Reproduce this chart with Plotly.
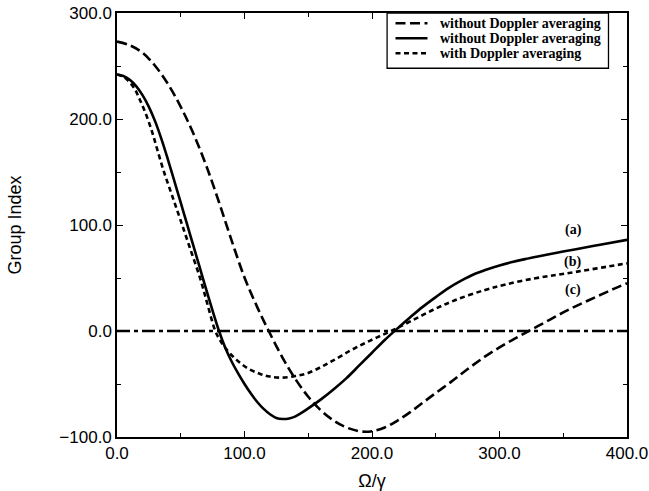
import plotly.graph_objects as go

# Curve (c): long dashes, "without Doppler averaging"
x_long = [0, 10, 20, 30, 40, 50, 60, 70, 80, 90, 100, 110, 119, 130, 140, 150, 160, 170, 180, 190, 195, 200, 210, 220, 230, 240, 250, 262, 270, 280, 290, 300, 310, 320, 330, 340, 350, 360, 370, 380, 390, 400]
y_long = [273, 269.5, 262.5, 250, 233, 211.5, 186, 156, 121.5, 85, 50.5, 22.5, 0, -25.5, -45.5, -62, -75, -84.5, -91, -94.5, -95, -94.5, -91, -84.5, -76.5, -67.5, -58.5, -48, -40.5, -31.5, -23, -15.5, -8.5, -2, 4.5, 11, 17.5, 23.5, 29, 34.5, 40, 45]

# Curve (a): solid, "without Doppler averaging"
x_solid = [0, 5, 10, 15, 20, 25, 30, 35, 40, 45, 50, 55, 60, 65, 70, 75, 80, 85, 90, 95, 100, 105, 110, 115, 120, 125, 130, 135, 140, 145, 150, 160, 170, 180, 190, 200, 210, 220, 230, 240, 250, 260, 270, 280, 290, 300, 310, 320, 330, 345, 360, 380, 400]
y_solid = [242, 240.5, 237, 231, 222.5, 211.5, 197.5, 180.5, 161.5, 141.5, 121, 100.5, 80, 59.5, 39, 19, 0, -16, -29, -40, -50, -59, -67, -73.5, -78.5, -82, -83, -82.5, -80.5, -77, -73, -64.5, -55, -44.5, -32.5, -20.5, -8.5, 2.5, 13, 23, 32, 40.5, 47.5, 53.5, 58, 61.8, 65, 67.8, 70.3, 73.8, 77.2, 81.6, 86]

# Curve (b): short dashes, "with Doppler averaging"
x_short = [0, 6, 13, 18, 23.5, 28, 31.4, 36.6, 43, 49.7, 57, 65.4, 71, 77.1, 81, 86, 94, 103, 112.4, 120, 129.5, 140, 149, 160, 170, 183, 193.5, 204, 215, 230, 248, 265, 288, 305, 327, 345, 361, 380, 400]
y_short = [242, 239, 230, 218, 202, 186, 172, 151, 128.5, 105, 79, 49, 25, 0, -9, -17.5, -27.5, -35.5, -40.5, -43, -44, -42.5, -40, -34, -27.5, -18.5, -12, -6, 0, 9, 20, 29, 38.5, 44, 49.5, 53, 56, 59.8, 63.8]

# zero reference line
x_zero = [0, 400]
y_zero = [0, 0]

legend_names = ["without Doppler averaging", "without Doppler averaging", "with Doppler averaging"]
legend_dashes = ["10px,4.5px", "solid", "5px,3.5px"]
curve_labels = ["(a)", "(b)", "(c)"]
label_x = [358, 357, 358]
label_y = [95, 65, 38.5]

x_ticks = [0, 100, 200, 300, 400]
y_ticks = [-100, 0, 100, 200, 300]

LW = 2.6
fig = go.Figure()
fig.add_trace(go.Scatter(x=x_long, y=y_long, mode="lines", name=legend_names[0], showlegend=False,
                         line=dict(color="black", width=LW, dash=legend_dashes[0], shape="spline")))
fig.add_trace(go.Scatter(x=x_solid, y=y_solid, mode="lines", name=legend_names[1], showlegend=False,
                         line=dict(color="black", width=LW, dash=legend_dashes[1], shape="spline")))
fig.add_trace(go.Scatter(x=x_short, y=y_short, mode="lines", name=legend_names[2], showlegend=False,
                         line=dict(color="black", width=LW, dash=legend_dashes[2], shape="spline")))
fig.add_trace(go.Scatter(x=x_zero, y=y_zero, mode="lines", showlegend=False,
                         line=dict(color="black", width=LW, dash="13px,4px,4px,4px")))

for t, xx, yy in zip(curve_labels, label_x, label_y):
    fig.add_annotation(x=xx, y=yy, text=t, showarrow=False,
                       font=dict(family="Liberation Serif", size=14, color="black", weight="bold"))

# Legend box (drawn in paper coordinates)
leg_left, leg_right, leg_top, leg_bottom = 0.5296, 0.9637, 1.0, 0.8697
fig.add_shape(type="rect", xref="paper", yref="paper", x0=leg_left, x1=leg_right, y0=leg_bottom, y1=leg_top,
              line=dict(color="black", width=1.3), fillcolor="white", layer="above")
row_y = [0.9757, 0.9404, 0.9050]
for name, dash, ry in zip(legend_names, legend_dashes, row_y):
    fig.add_shape(type="line", xref="paper", yref="paper", x0=0.5461, x1=0.6088, y0=ry, y1=ry,
                  line=dict(color="black", width=LW, dash=dash), layer="above")
    fig.add_annotation(xref="paper", yref="paper", x=0.6302, y=ry, xanchor="left", yanchor="middle",
                       text=name, showarrow=False,
                       font=dict(family="Liberation Serif", size=14, color="black", weight="bold"))

axis_common = dict(
    showline=True, linecolor="black", linewidth=1.5, mirror="ticks",
    ticks="inside", ticklen=6, tickwidth=1.3, tickcolor="black",
    showgrid=False, zeroline=False, automargin=False,
    tickfont=dict(family="Liberation Sans", size=17, color="black"),
    tickformat=".1f",
    minor=dict(ticks="inside", ticklen=4, tickwidth=1.3, tickcolor="black", showgrid=False),
)

fig.update_xaxes(range=[0, 400], tickvals=x_ticks, minor_dtick=50,
                 title=dict(text="Ω/γ", font=dict(family="Liberation Sans", size=18, color="black"), standoff=12),
                 **axis_common)
fig.update_yaxes(range=[-100, 300], tickvals=y_ticks, minor_dtick=50,
                 title=dict(text="Group Index", font=dict(family="Liberation Sans", size=18, color="black"), standoff=33),
                 **axis_common)

fig.update_layout(
    width=649, height=491,
    margin=dict(l=117, r=22, t=13, b=54),
    paper_bgcolor="white", plot_bgcolor="white",
    showlegend=False,
)

# remove the default page margin so the figure fills the window exactly
fig.write_html("out.html", config={"displayModeBar": False},
               post_script="document.body.style.margin='0';")
